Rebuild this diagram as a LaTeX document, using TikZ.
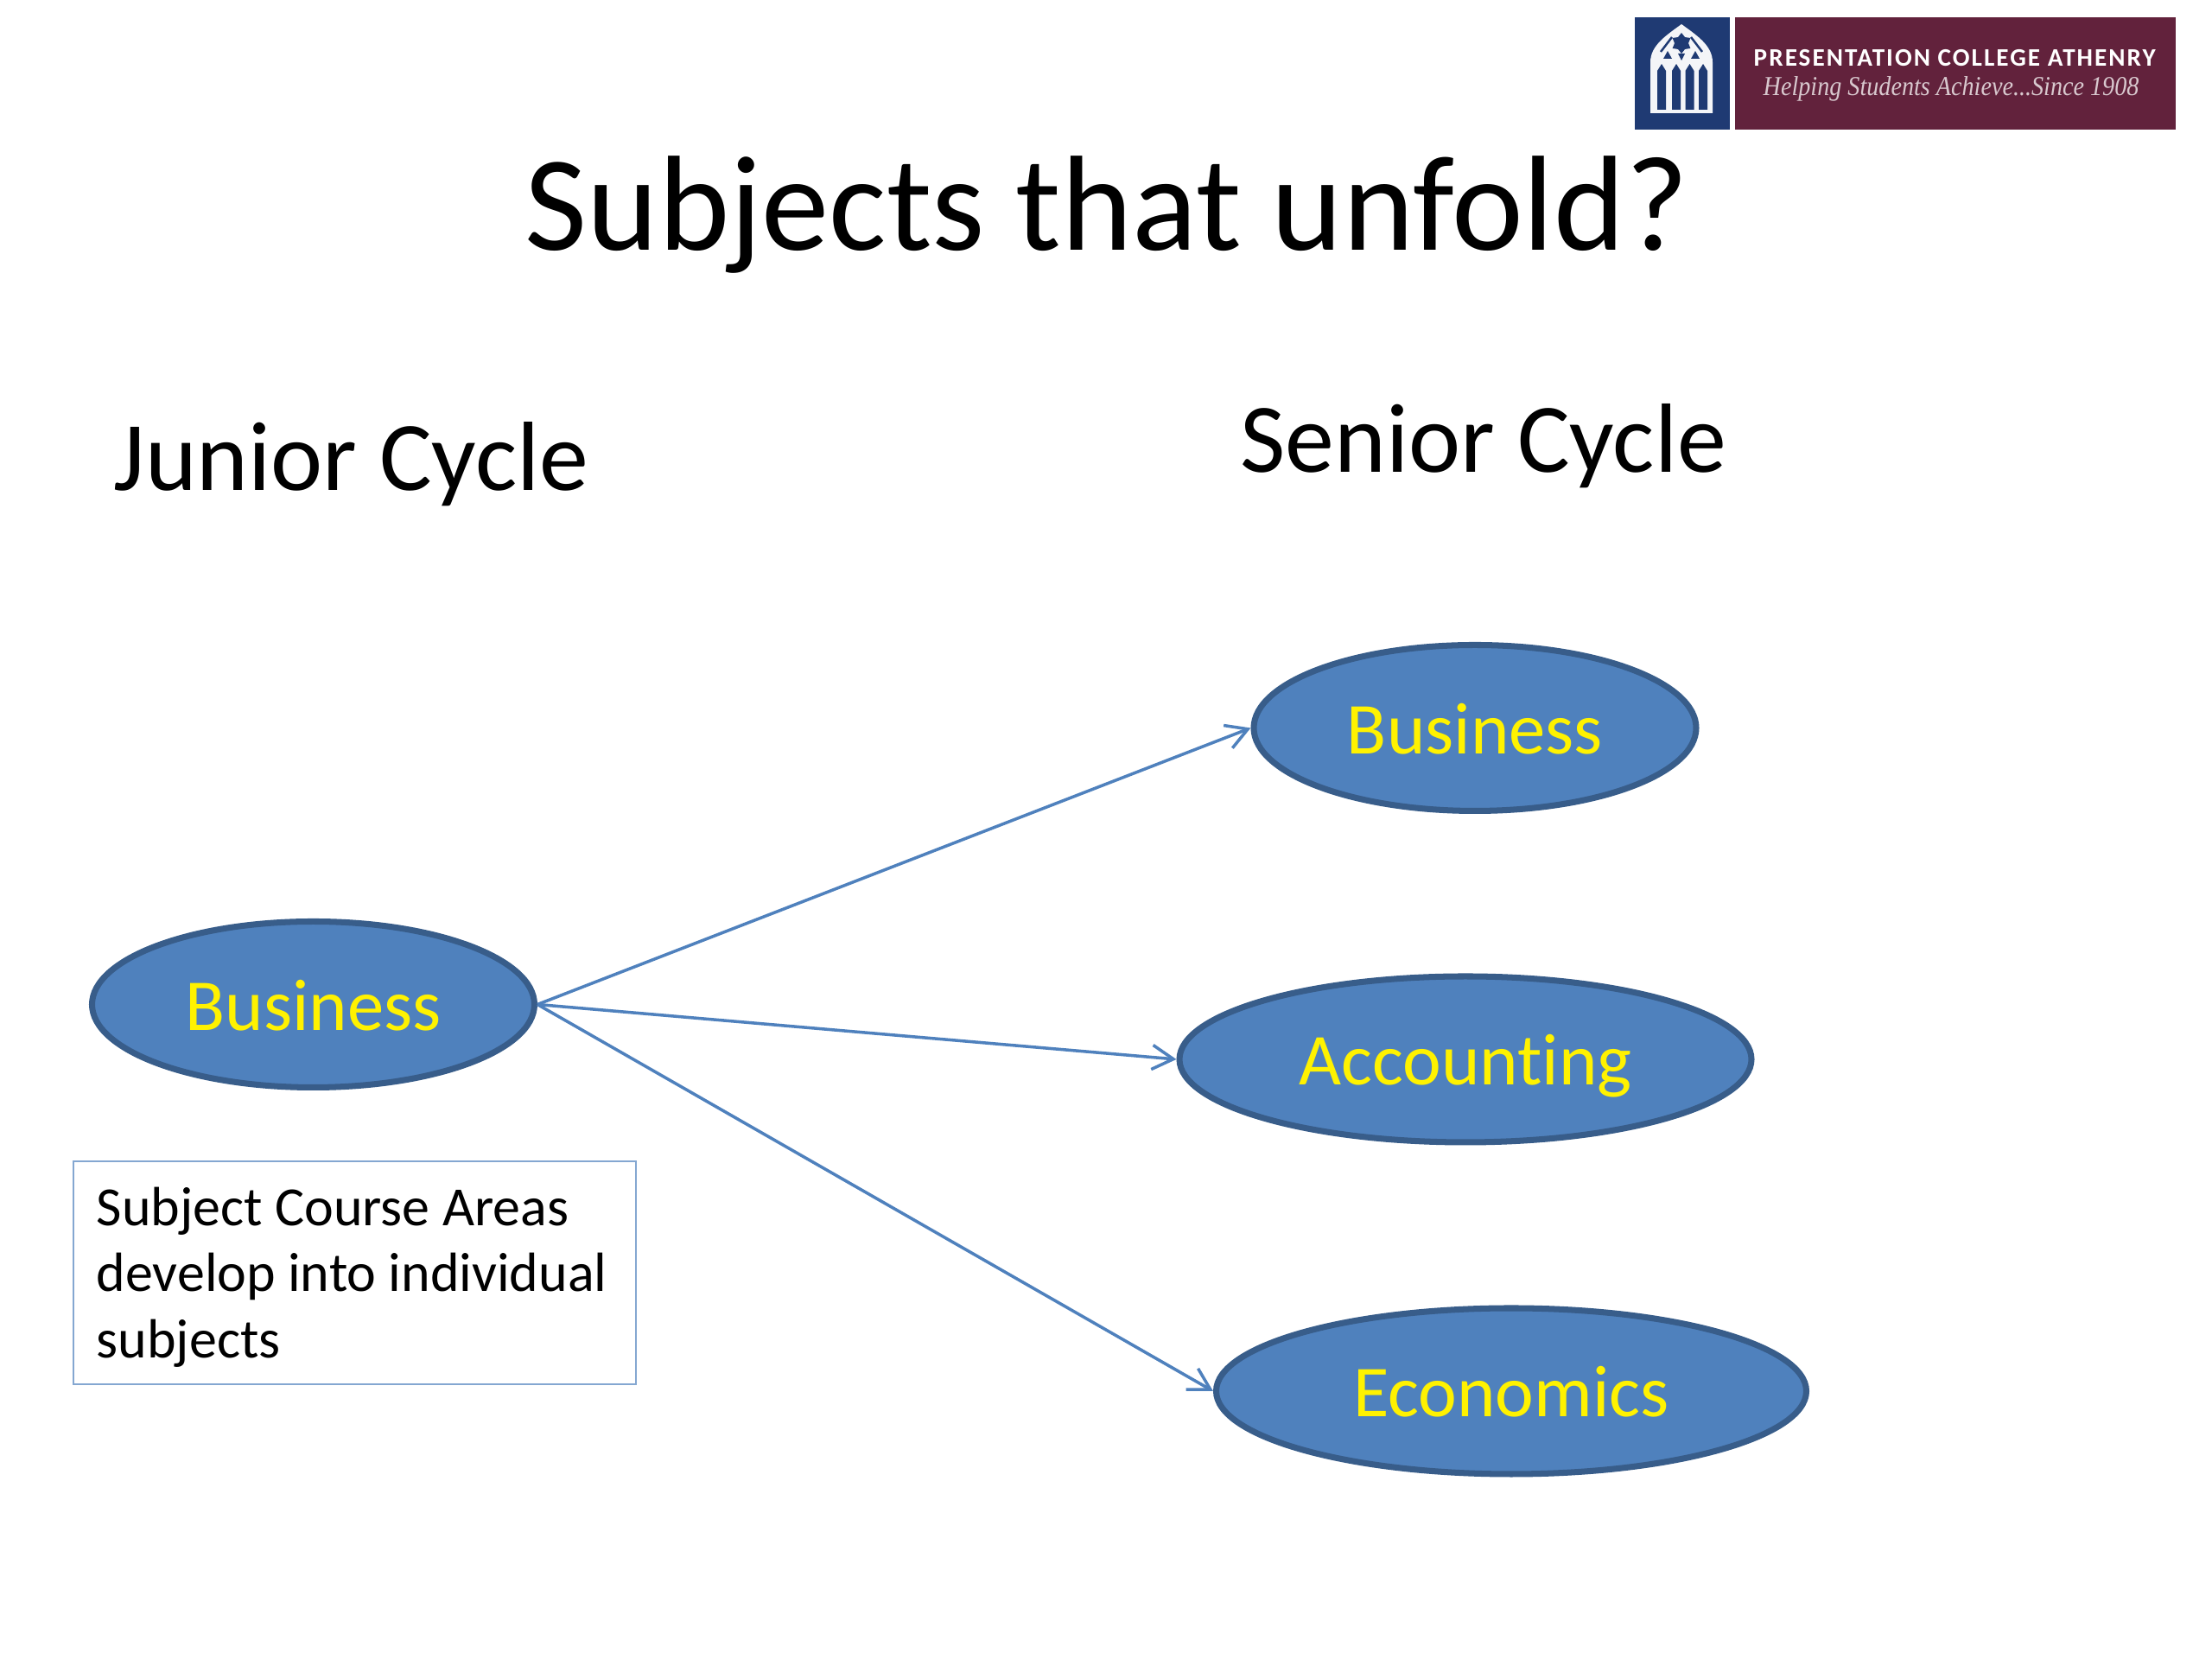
\documentclass[tikz,border=0pt]{standalone}
\usepackage{fontspec}
\setmainfont[Ligatures=NoCommon]{Carlito}
\newfontfamily\logosans[LetterSpace=7]{Carlito}
\newfontfamily\logoserif[FakeStretch=0.89]{Liberation Serif}
\usetikzlibrary{shapes.geometric, arrows.meta, positioning, calc}
\definecolor{ovalfill}{HTML}{4F81BD}
\definecolor{ovaldraw}{HTML}{385D8A}
\definecolor{logoblue}{HTML}{1F3A73}
\definecolor{logored}{HTML}{62223C}

\begin{document}
\begin{tikzpicture}[
  oval/.style={ellipse, fill=ovalfill, draw=ovaldraw, line width=2pt, minimum height=1.92cm, inner sep=0pt, font=\fontsize{24.1}{29}\selectfont, text=yellow, text height=20.5pt, text depth=3.7pt},
  link/.style={draw=ovalfill, line width=1pt, -{Straight Barb[length=7pt,width=8pt,line width=1pt]}},
  head/.style={anchor=base west, inner sep=0pt, font=\fontsize{32.4}{38}\selectfont},
  notebox/.style={draw=ovalfill!70, line width=0.8pt, minimum width=6.51cm, minimum height=2.58cm, inner sep=0pt}
]
\useasboundingbox (0,0) rectangle (25.6,19.2);
\fill[white] (0,0) rectangle (25.6,19.2);

% logo
\fill[logoblue] (18.92,17.7) rectangle (20.02,19);
\fill[logored] (20.08,17.7) rectangle (25.18,19);
\fill[white!95!logoblue] (19.10,17.89) -- (19.10,18.48) .. controls (19.10,18.68) and (19.3,18.8) .. (19.46,18.92) .. controls (19.62,18.8) and (19.82,18.68) .. (19.82,18.48) -- (19.82,17.89) -- cycle;
\foreach \winx in {19.18,19.35,19.505,19.66} {
  \fill[logoblue] (\winx,17.93) rectangle (\winx+0.10,18.38) -- (\winx+0.05,18.46) -- (\winx,18.38);
}
\node[star, star points=6, star point ratio=1.5, fill=logoblue, minimum size=0.24cm, inner sep=0pt] (winstar) at (19.46,18.7) {};
\draw[logoblue, line width=0.7pt] (19.22,18.6) -- (19.35,18.77);
\draw[logoblue, line width=0.7pt] (19.57,18.77) -- (19.70,18.6);
\fill[logoblue] (19.25,18.52) -- (19.35,18.52) -- (19.30,18.61) -- cycle;
\fill[logoblue] (19.57,18.52) -- (19.67,18.52) -- (19.62,18.61) -- cycle;
\fill[logoblue] (19.42,18.58) -- (19.50,18.58) -- (19.46,18.5) -- cycle;
\node[anchor=base west, text=white, inner sep=0pt, font=\logosans\bfseries\fontsize{8.3}{10}\selectfont] (logoname) at (20.29,18.43) {PRESENTATION COLLEGE ATHENRY};
\node[anchor=base west, text=white!75!logored, inner sep=0pt, font=\logoserif\itshape\fontsize{9}{11}\selectfont] (logomotto) at (20.4,18.09) {Helping Students Achieve...Since 1908};

% headings
\node[anchor=base, inner sep=0pt, font=\fontsize{44.6}{52}\selectfont] (title) at (12.81,16.3) {Subjects that unfold?};
\node[head] (junior) at (1.31,13.52) {Junior Cycle};
\node[head] (senior) at (14.35,13.73) {Senior Cycle};

% ovals
\node[oval, minimum width=5.12cm] (bizjunior) at (3.625,7.575) {Business};
\node[oval, minimum width=5.12cm] (bizsenior) at (17.07,10.775) {Business};
\node[oval, minimum width=6.62cm] (accounting) at (16.96,6.94) {Accounting};
\node[oval, minimum width=6.83cm] (economics) at (17.49,3.1) {Economics};

% links
\draw[link] (bizjunior.east) -- (bizsenior.west);
\draw[link] (bizjunior.east) -- (accounting.west);
\draw[link] (bizjunior.east) -- (economics.west);

% note
\node[notebox] (note) at (4.105,4.47) {};
\node[anchor=north west, inner sep=0pt, align=left, font=\fontsize{18.2}{21.8}\selectfont] (notetext) at (1.11,5.47) {Subject Course Areas\\develop into individual\\subjects};

\end{tikzpicture}
\end{document}
